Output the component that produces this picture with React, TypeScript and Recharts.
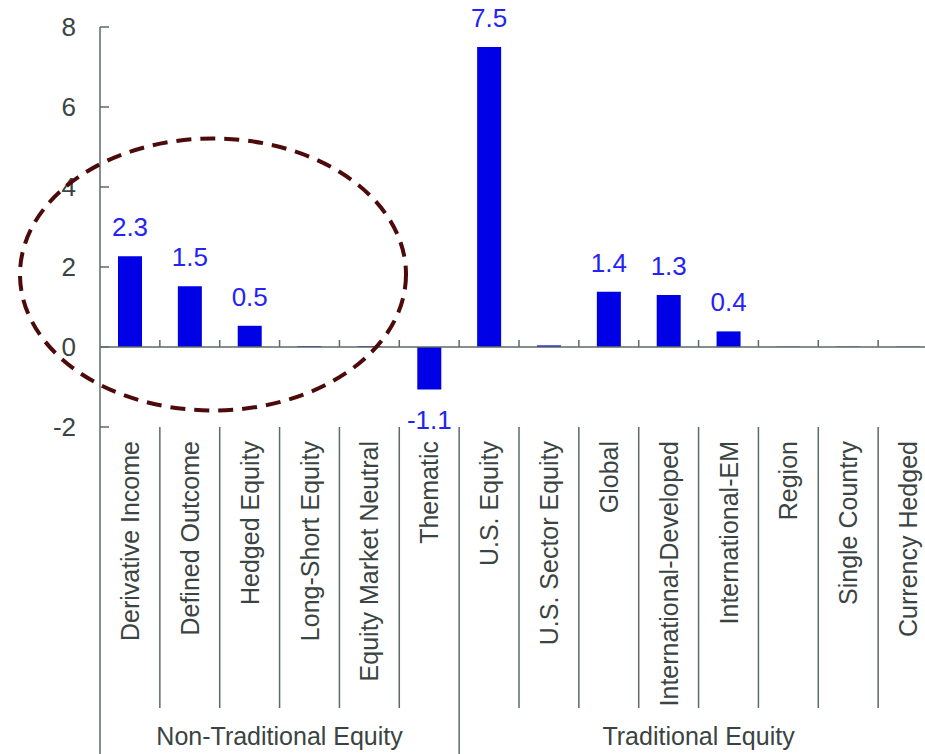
import { BarChart, Bar, XAxis, YAxis, ReferenceLine, LabelList } from "recharts";

const categories = [
  "Derivative Income",
  "Defined Outcome",
  "Hedged Equity",
  "Long-Short Equity",
  "Equity Market Neutral",
  "Thematic",
  "U.S. Equity",
  "U.S. Sector Equity",
  "Global",
  "International-Developed",
  "International-EM",
  "Region",
  "Single Country",
  "Currency Hedged",
];
const flows = [2.27, 1.52, 0.53, 0.02, 0.02, -1.06, 7.5, 0.04, 1.38, 1.3, 0.39, 0.01, 0.01, 0.01];
const groupNames = ["Non-Traditional Equity", "Traditional Equity"];
const groupSizes = [6, 8];
const yTicks = [-2, 0, 2, 4, 6, 8];

const data = categories.map((name, i) => ({ name, value: flows[i] }));

const W = 945;
const H = 754;
const AXIS = "#5b6b66";
const TEXT = "#3a4442";
const BLUE = "#0000e6";
const LABEL = "#2323f5";
const FONT = "'Liberation Sans', Arial, sans-serif";
const PLOT_LEFT = 100;
const PLOT_RIGHT = 938;
const PLOT_TOP = 27;
const PLOT_BOTTOM = 427;
const Y_MIN = -2;
const Y_MAX = 8;
const BAND = (PLOT_RIGHT - PLOT_LEFT) / categories.length;
const zeroY = PLOT_TOP + ((PLOT_BOTTOM - PLOT_TOP) * (Y_MAX - 0)) / (Y_MAX - Y_MIN);

// index of the first / last category in each group
const groupEnds = groupSizes.map((_, g) => groupSizes.slice(0, g + 1).reduce((a, b) => a + b, 0) - 1);
const groupStarts = groupSizes.map((_, g) => groupSizes.slice(0, g).reduce((a, b) => a + b, 0));

function CategoryTick(props: any) {
  const { x, payload } = props;
  const i: number = props.index ?? payload.index;
  const left = x - BAND / 2;
  const right = x + BAND / 2;
  const isGroupEnd = groupEnds.includes(i);
  const g = groupStarts.indexOf(i);
  return (
    <g>
      <text
        x={x + 9}
        y={441}
        transform={`rotate(-90, ${x + 9}, 441)`}
        textAnchor="end"
        fontSize={25}
        fontFamily={FONT}
        fill={TEXT}
      >
        {payload.value}
      </text>
      <line x1={right} x2={right} y1={PLOT_BOTTOM} y2={isGroupEnd ? H : 708} stroke={AXIS} strokeWidth={1.5} />
      {i === 0 && <line x1={left} x2={left} y1={PLOT_BOTTOM} y2={H} stroke={AXIS} strokeWidth={1.5} />}
      <line x1={right} x2={right} y1={zeroY - 7} y2={zeroY} stroke={AXIS} strokeWidth={1.5} />
      {g >= 0 && (
        <text
          x={left + (groupSizes[g] * BAND) / 2}
          y={745}
          textAnchor="middle"
          fontSize={25}
          fontFamily={FONT}
          fill={TEXT}
        >
          {groupNames[g]}
        </text>
      )}
    </g>
  );
}

function ValueTick(props: any) {
  const { y, payload } = props;
  return (
    <g>
      <line x1={PLOT_LEFT} x2={PLOT_LEFT + 9} y1={y} y2={y} stroke={AXIS} strokeWidth={1.5} />
      <text x={PLOT_LEFT - 24} y={y} dy="0.36em" textAnchor="end" fontSize={26} fontFamily={FONT} fill={TEXT}>
        {payload.value}
      </text>
    </g>
  );
}

function ValueLabel(props: any) {
  const { x, y, width, height, value } = props;
  if (Math.abs(value) < 0.1) return null;
  const top = Math.min(y, y + height);
  const bottom = Math.max(y, y + height);
  return (
    <text
      x={x + width / 2}
      y={value >= 0 ? top - 20 : bottom + 40}
      textAnchor="middle"
      fontSize={26}
      fontFamily={FONT}
      fill={LABEL}
    >
      {value.toFixed(1)}
    </text>
  );
}

export default function App() {
  return (
    <div style={{ position: "fixed", left: 0, top: 0, width: 925, height: 754, overflow: "hidden", background: "#fff" }}>
      <BarChart width={W} height={H} data={data} margin={{ top: PLOT_TOP, right: W - PLOT_RIGHT, left: 0, bottom: 0 }}>
        <XAxis
          dataKey="name"
          height={H - PLOT_BOTTOM}
          interval={0}
          axisLine={false}
          tickLine={false}
          tickSize={0}
          tickMargin={0}
          tick={<CategoryTick />}
        />
        <YAxis
          domain={[Y_MIN, Y_MAX]}
          ticks={yTicks}
          width={PLOT_LEFT}
          axisLine={{ stroke: AXIS, strokeWidth: 1.5 }}
          tickLine={false}
          tickSize={0}
          tick={<ValueTick />}
        />
        <Bar dataKey="value" fill={BLUE} barSize={24} isAnimationActive={false}>
          <LabelList dataKey="value" content={<ValueLabel />} />
        </Bar>
        <ReferenceLine y={0} stroke={AXIS} strokeWidth={1.5} />
      </BarChart>
      <svg width={925} height={754} style={{ position: "absolute", left: 0, top: 0, pointerEvents: "none" }}>
        <ellipse cx={213} cy={274.5} rx={193} ry={136} fill="none" stroke="#4d0a0a" strokeWidth={4} strokeDasharray="15 9" />
      </svg>
    </div>
  );
}
